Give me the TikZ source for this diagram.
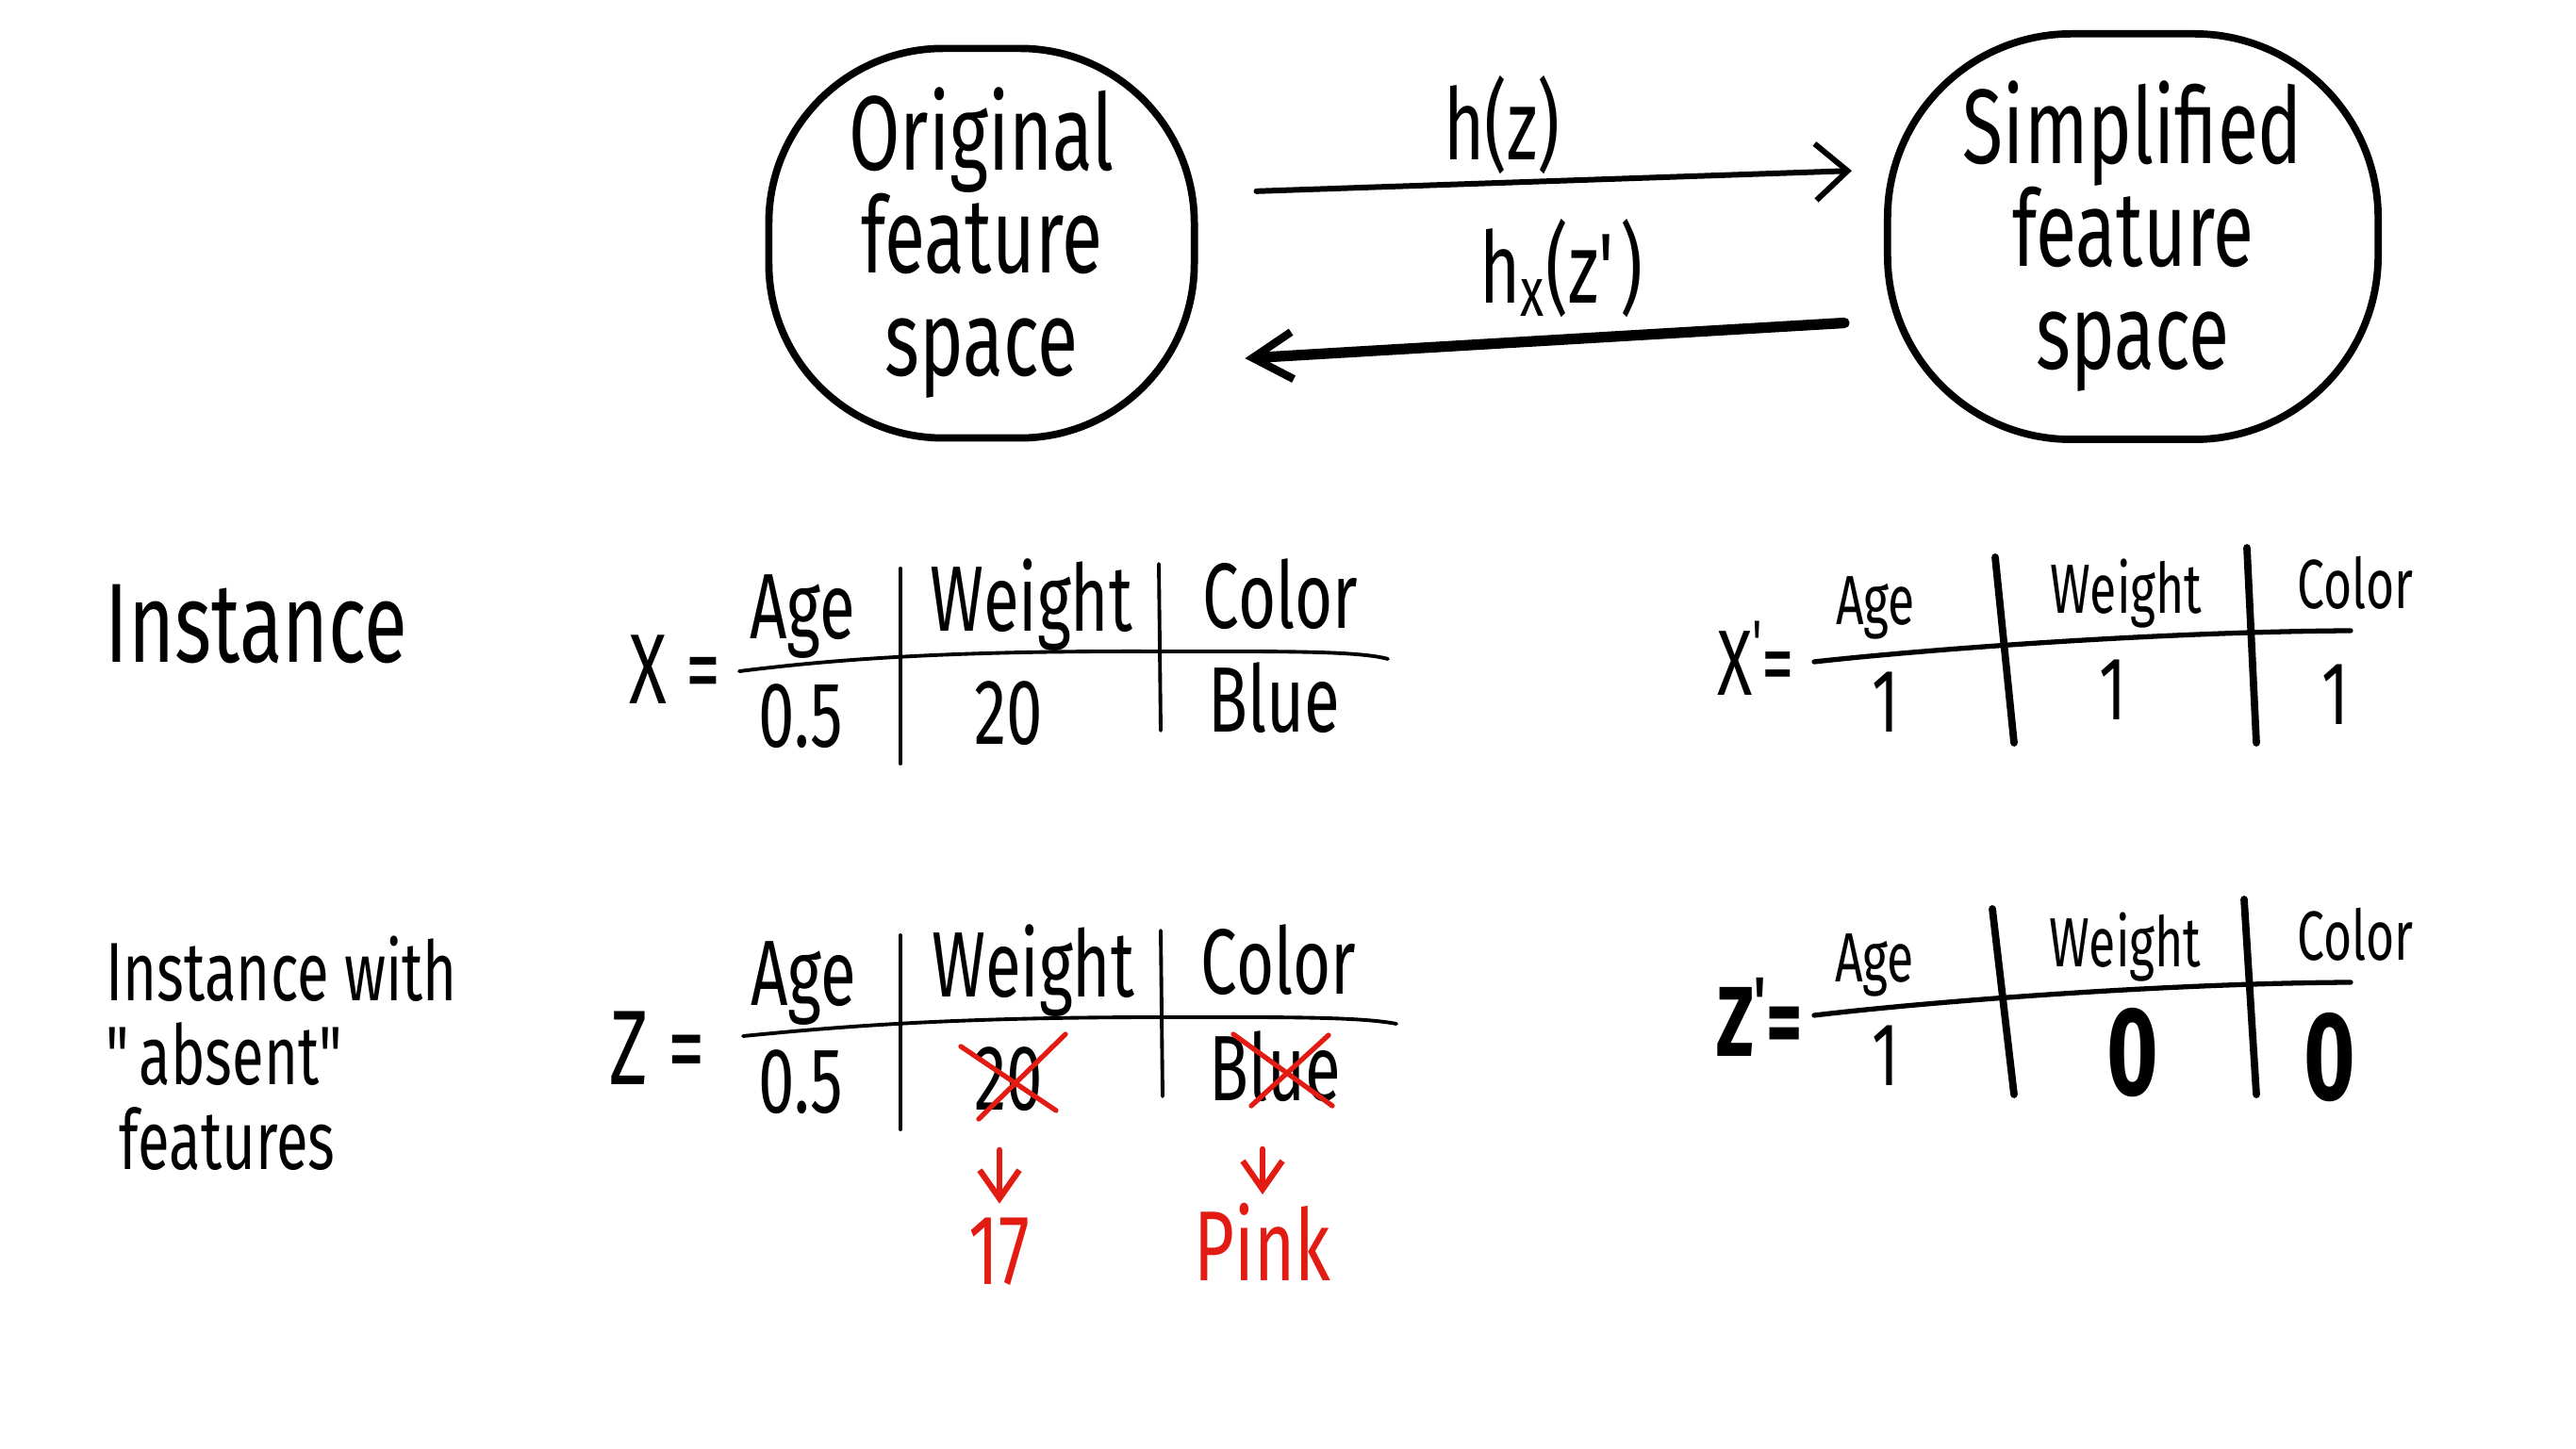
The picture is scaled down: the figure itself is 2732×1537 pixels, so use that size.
\documentclass[tikz,border=0pt]{standalone}
\usepackage{fontspec}
\setmainfont{Fira Sans}[FakeStretch=0.7]
\usetikzlibrary{arrows.meta}
\definecolor{inkred}{RGB}{226,28,18}
\begin{document}
\begin{tikzpicture}[x=0.01cm,y=-0.01cm,
  bubble/.style={draw,line width=2.2pt,align=center,inner sep=0pt,font=\fontsize{32}{31}\selectfont},
  lbl/.style={inner sep=0pt,anchor=base,font=\fontsize{30}{30}\selectfont},
  hdr/.style={inner sep=0pt,anchor=base,font=\fontsize{28}{28}\selectfont},
  val/.style={inner sep=0pt,anchor=base,font=\fontsize{28}{28}\selectfont},
  hdrs/.style={inner sep=0pt,anchor=base,font=\fontsize{21}{21}\selectfont},
  vals/.style={inner sep=0pt,anchor=base,font=\fontsize{27}{27}\selectfont},
  valz/.style={inner sep=0pt,anchor=base,font=\fontsize{38}{38}\selectfont\bfseries},
  redtxt/.style={inner sep=0pt,anchor=base,text=inkred,font=\fontsize{30}{30}\selectfont},
  tline/.style={line width=1.1pt,line cap=round},
  tlinep/.style={line width=1.5pt,line cap=round},
  tvert/.style={line width=2.2pt,line cap=round},
  arrtop/.style={line width=1.7pt,line cap=round,-{Straight Barb[length=0.34cm,width=0.6cm,line width=1.7pt]}},
  arrbot/.style={line width=3.2pt,line cap=round,-{Straight Barb[length=0.42cm,width=0.5cm,line width=2.4pt]}},
  crossx/.style={inkred,line width=1.5pt,line cap=round},
  redarr/.style={inkred,line width=1.8pt,line cap=round,-{Straight Barb[length=0.3cm,width=0.42cm]}}
]
\useasboundingbox (0,0) rectangle (2732,1537);

% bubbles
\node[bubble,rounded corners=1.85cm,minimum width=4.51cm,minimum height=4.13cm] (orig) at (1041,258) {Original\\feature\\space};
\node[bubble,rounded corners=1.95cm,minimum width=5.2cm,minimum height=4.3cm] (simp) at (2262,251) {Simplified\\feature\\space};

% arrows between the spaces
\draw[arrtop,shorten <=0.62cm,shorten >=0.34cm] ([yshift=0.53cm]orig.east) -- ([yshift=0.71cm]simp.west);
\draw[arrbot,shorten <=0.42cm,shorten >=0.5cm] ([yshift=-0.89cm]simp.west) -- ([yshift=-1.25cm]orig.east);
\node[lbl] (hz) at (1593,170) {h(z)};
\node[lbl] (hxz) at (1656,322) {h\textsubscript{x}(z\textquotesingle)};

% left labels
\node[inner sep=0pt,anchor=base,font=\fontsize{34}{34}\selectfont] (inst) at (272,703) {Instance};
\node[inner sep=0pt,anchor=north west,align=left,font=\fontsize{25}{25.5}\selectfont] (absent) at (112,992) {Instance with\\\textquotedbl absent\textquotedbl\\\hspace*{4pt}features};

% X table
\node[lbl] (xeq) at (716,747) {X =};
\draw[tline] (784,712) .. controls (880,700) and (1000,690) .. (1231,691) .. controls (1350,691) and (1440,690) .. (1472,699);
\draw[tline] (955,603) -- (955,810);
\draw[tline] (1229,598) -- (1231,775);
\node[hdr] (xh1) at (851,678) {Age};
\node[hdr] (xh2) at (1094,670) {Weight};
\node[hdr] (xh3) at (1358,667) {Color};
\node[val] (xv1) at (849,793) {0.5};
\node[val] (xv2) at (1070,790) {20};
\node[val] (xv3) at (1351,777) {Blue};

% Z table
\node[lbl,font=\fontsize{32}{32}\selectfont] (zeq) at (697,1150) {Z =};
\draw[tline] (788,1099) .. controls (880,1090) and (1000,1079) .. (1231,1079) .. controls (1350,1079) and (1440,1078) .. (1481,1086);
\draw[tline] (955,992) -- (955,1198);
\draw[tline] (1231,987) -- (1233,1163);
\node[hdr] (zh1) at (852,1067) {Age};
\node[hdr] (zh2) at (1096,1058) {Weight};
\node[hdr] (zh3) at (1356,1055) {Color};
\node[val] (zv1) at (849,1180) {0.5};
\node[val] (zv2) at (1070,1178) {20};
\node[val] (zv3) at (1352,1167) {Blue};
\draw[crossx] (1019,1110) -- (1120,1178);
\draw[crossx] (1130,1097) -- (1038,1187);
\draw[crossx] (1308,1097) -- (1413,1173);
\draw[crossx] (1409,1098) -- (1327,1173);
\node[redtxt] (r17) at (1060,1362) {17};
\node[redtxt] (rpink) at (1339,1358) {Pink};
\draw[redarr,shorten <=0.4cm,shorten >=0.14cm] (zv2.south -| r17.north) -- (r17.north);
\draw[redarr,shorten <=0.5cm,shorten >=0.08cm] (zv3.south -| rpink.north) -- (rpink.north);

% X' table
\node[lbl,font=\fontsize{28}{28}\selectfont] (xpeq) at (1862,738) {X\textsuperscript{\textquotesingle}\kern-2pt=};
\draw[tlinep] (1924,702) .. controls (2050,688) and (2300,670) .. (2493,669);
\draw[tvert] (2116,591) -- (2136,788);
\draw[tvert] (2383,581) -- (2393,788);
\node[hdrs] (ph1) at (1989,663) {Age};
\node[hdrs] (ph2) at (2255,651) {Weight};
\node[hdrs] (ph3) at (2498,646) {Color};
\node[vals] (pv1) at (2000,777) {1};
\node[vals] (pv2) at (2241,764) {1};
\node[vals] (pv3) at (2477,769) {1};

% Z' table
\node[lbl,font=\fontsize{30}{30}\selectfont\bfseries] (zpeq) at (1866,1120) {Z\textsuperscript{\textquotesingle}\kern-2pt=};
\draw[tlinep] (1924,1077) .. controls (2050,1062) and (2300,1043) .. (2493,1042);
\draw[tvert] (2113,964) -- (2136,1161);
\draw[tvert] (2380,954) -- (2393,1161);
\node[hdrs] (qh1) at (1988,1041) {Age};
\node[hdrs] (qh2) at (2254,1026) {Weight};
\node[hdrs] (qh3) at (2498,1019) {Color};
\node[vals] (qv1) at (2000,1152) {1};
\node[valz] (qv2) at (2262,1162) {0};
\node[valz] (qv3) at (2471,1166) {0};
\end{tikzpicture}
\end{document}
